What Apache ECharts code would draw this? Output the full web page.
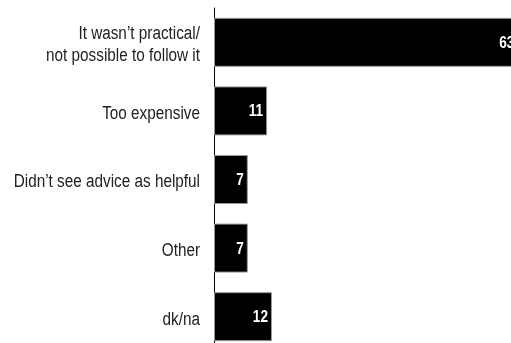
<!DOCTYPE html>
<html>
<head>
<meta charset="utf-8">
<script src="https://cdn.jsdelivr.net/npm/echarts@6/dist/echarts.min.js"></script>
<style>
  html, body { margin: 0; padding: 0; background: #fff; }
  #chart { width: 511px; height: 343px; }
</style>
</head>
<body>
<div id="chart"></div>
<script>
// Reasons given for not following the advice (%)
const categories = [
  "It wasn\u2019t practical/\nnot possible to follow it",
  "Too expensive",
  "Didn\u2019t see advice as helpful",
  "Other",
  "dk/na"
];
const values = [63, 11, 7, 7, 12];

const FONT = "'Liberation Sans', Arial, sans-serif";
// horizontal squeeze to get a condensed look from a regular face
const SQUEEZE = 0.85;

const chart = echarts.init(document.getElementById('chart'), null, { renderer: 'canvas' });
chart.setOption({
  animation: false,
  grid: {
    left: 214, top: 8, height: 343, width: 483,
    containLabel: false, outerBoundsMode: 'none'
  },
  xAxis: { type: 'value', min: 0, max: 100, show: false },
  yAxis: {
    type: 'category',
    data: categories,
    inverse: true,
    axisLine: { show: true, lineStyle: { color: '#000', width: 1 } },
    axisTick: { show: false },
    axisLabel: { show: false }
  },
  series: [{
    type: 'bar',
    data: values,
    barWidth: 49,
    clip: false,
    itemStyle: { color: '#000', borderColor: '#9a9a9a', borderWidth: 1 },
    label: { show: false }
  }]
});

// Category names and value labels, placed with the chart's own scales
const texts = [];
categories.forEach((name, i) => {
  const y = chart.convertToPixel({ yAxisIndex: 0 }, name);
  const x0 = chart.convertToPixel({ xAxisIndex: 0 }, 0);
  texts.push({
    type: 'text', x: x0 - 14, y: y + 3, scaleX: SQUEEZE, z: 100,
    style: {
      text: name, fill: '#222', font: '18px ' + FONT,
      align: 'right', verticalAlign: 'middle', lineHeight: 22
    }
  });
  const xv = chart.convertToPixel({ xAxisIndex: 0 }, values[i]);
  texts.push({
    type: 'text', x: xv - 4, y: y + 1, scaleX: SQUEEZE, z: 100,
    style: {
      text: String(values[i]), fill: '#fff', font: 'bold 16px ' + FONT,
      align: 'right', verticalAlign: 'middle'
    }
  });
});
chart.setOption({ graphic: texts });
</script>
</body>
</html>
